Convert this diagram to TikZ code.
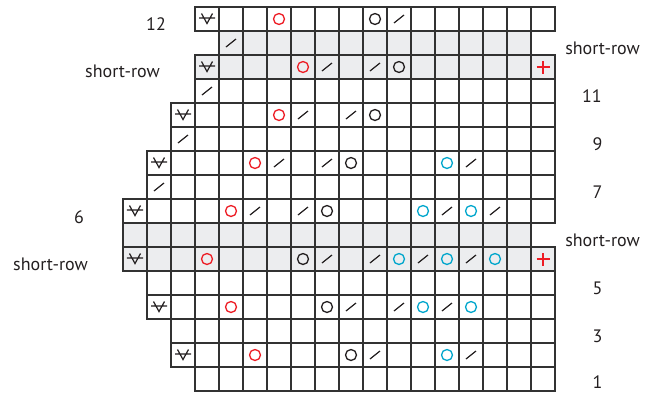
\documentclass[tikz,border=0pt]{standalone}
\usepackage{fontspec}
\setmainfont{PT Sans}
\definecolor{ink}{RGB}{35,31,32}
\definecolor{gridline}{RGB}{50,50,50}
\definecolor{rowgray}{RGB}{236,237,239}
\definecolor{yored}{RGB}{237,28,36}
\definecolor{yocyan}{RGB}{0,166,204}
\tikzset{
  cell/.style={gridline,line width=1.1pt},
  lbl/.style={font=\fontsize{18}{20}\selectfont,text=ink,inner sep=0pt},
  slipst/.pic={\draw[ink,line width=1.2pt] (-5.5pt,5.5pt) -- (0,-4.5pt) -- (5.5pt,5.5pt) (-8pt,1pt) -- (8pt,1pt);},
  dec/.pic={\draw[ink,line width=1.2pt] (-5pt,-4pt) -- (5pt,4pt);},
  yo/.pic={\draw[line width=1.3pt] (0,0) circle (5.5pt);},
  turn/.pic={\draw[yored,line width=1.3pt] (-6.5pt,0) -- (6.5pt,0) (0,-6.5pt) -- (0,6.5pt);}
}
\begin{document}
\begin{tikzpicture}[x=24pt,y=-24pt]
  \useasboundingbox (-5.125,-0.2917) rectangle (22.2917,16.0417);
  % row r runs from col a to col b, top row is r=0
  \foreach \r/\a/\b in {1/4/17,2/3/18,9/0/17,10/0/18} { \fill[rowgray] (\a,\r) rectangle (\b,\r+1); }
  \foreach \r/\a/\b in {0/3/17,1/4/16,2/3/17,3/3/17,4/2/17,5/2/17,6/1/17,7/1/17,8/0/17,9/0/16,10/0/17,11/1/17,12/1/17,13/2/17,14/2/17,15/3/17} {
    \foreach \c in {\a,...,\b} { \draw[cell] (\c,\r) rectangle ++(1,1); }
  }
  \foreach \c/\r in {3/0,3/2,2/4,1/6,0/8,0/10,1/12,2/14} { \pic at (\c+0.5,\r+0.5) {slipst}; }
  \foreach \c/\r in {4/1,3/3,2/5,1/7,11/0,8/2,10/2,7/4,9/4,6/6,8/6,14/6,5/8,7/8,13/8,15/8,8/10,10/10,12/10,14/10,9/12,11/12,13/12,10/14,14/14} { \pic at (\c+0.5,\r+0.5) {dec}; }
  \foreach \c/\r in {6/0,7/2,6/4,5/6,4/8,3/10,4/12,5/14} { \pic[color=yored] at (\c+0.5,\r+0.5) {yo}; }
  \foreach \c/\r in {10/0,11/2,10/4,9/6,8/8,7/10,8/12,9/14} { \pic[color=ink] at (\c+0.5,\r+0.5) {yo}; }
  \foreach \c/\r in {13/6,12/8,14/8,11/10,13/10,15/10,12/12,14/12,13/14} { \pic[color=yocyan] at (\c+0.5,\r+0.5) {yo}; }
  \foreach \r in {2,10} { \pic at (17.5,\r+0.5) {turn}; }
  \foreach \n/\x/\y/\t in {L12/1.375/0.72/12,LsrA/-0.02/2.68/short-row,L6/-1.83/8.74/6,LsrB/-3.02/10.7/short-row} { \node[lbl] (lab\n) at (\x,\y) {\t}; }
  \foreach \n/\x/\y/\t in {R1/19.98/1.72/short-row,R3/19.54/3.72/11,R5/19.77/5.72/9,R7/19.77/7.72/7,R9/19.98/9.72/short-row,R11/19.77/11.72/5,R13/19.77/13.7/3,R15/19.77/15.62/1} { \node[lbl] (lab\n) at (\x,\y) {\t}; }
\end{tikzpicture}
\end{document}
